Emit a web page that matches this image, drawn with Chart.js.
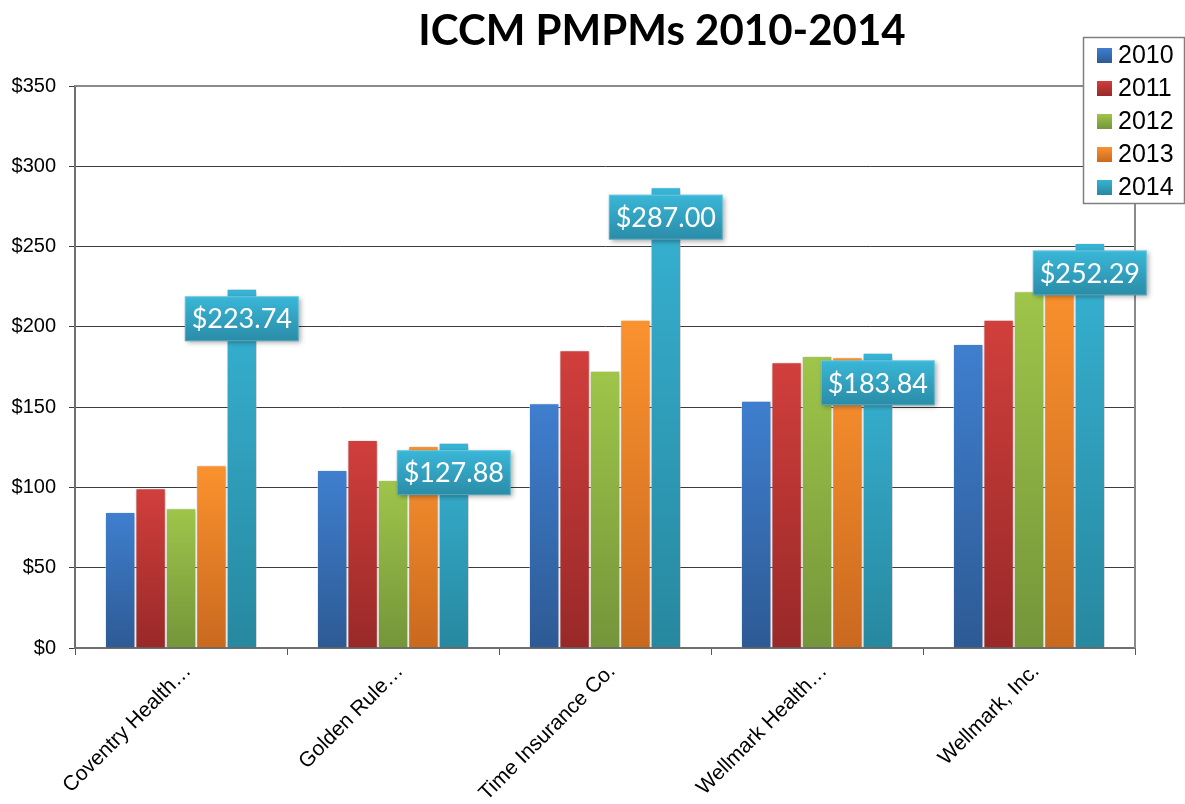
<!DOCTYPE html>
<html>
<head>
<meta charset="utf-8">
<script src="https://cdn.jsdelivr.net/npm/chart.js@4.4.1/dist/chart.umd.min.js"></script>
<style>
  html, body { margin: 0; padding: 0; background: #ffffff; }
  #wrap { position: relative; width: 1185px; height: 804px; }
</style>
</head>
<body>
<div id="wrap"><canvas id="c" width="1185" height="804"></canvas></div>
<script>
// ---- data ----
const chartTitle = "ICCM PMPMs 2010-2014";
const categories = ["Coventry Health…", "Golden Rule…", "Time Insurance Co.", "Wellmark Health…", "Wellmark, Inc."];
const years = ["2010", "2011", "2012", "2013", "2014"];
const values2010 = [84.7, 110.8, 152.4, 154.0, 189.3];
const values2011 = [99.5, 129.5, 185.4, 177.9, 204.4];
const values2012 = [87.0, 104.6, 172.7, 181.8, 222.1];
const values2013 = [113.8, 125.8, 204.4, 181.0, 236.0];
const values2014 = [223.74, 127.88, 287.00, 183.84, 252.29];
const yTicks = [0, 50, 100, 150, 200, 250, 300, 350];

// ---- styles ----
const seriesColors = [
  ["#3f7fcf", "#2d5a94"],
  ["#d13f3c", "#982928"],
  ["#9fc54a", "#74953a"],
  ["#fb922e", "#c9691f"],
  ["#37b3d4", "#27889f"]
];
const allValues = [values2010, values2011, values2012, values2013, values2014];

function barGradient(idx) {
  return function(ctx) {
    const chart = ctx.chart;
    const ys = chart.scales && chart.scales.y;
    if (!chart.chartArea || !ys || ctx.raw == null) return seriesColors[idx][0];
    const top = ys.getPixelForValue(ctx.raw);
    const bottom = ys.getPixelForValue(0);
    const g = chart.ctx.createLinearGradient(0, top, 0, bottom);
    g.addColorStop(0, seriesColors[idx][0]);
    g.addColorStop(1, seriesColors[idx][1]);
    return g;
  };
}

const datasets = years.map((y, i) => ({
  label: y,
  data: allValues[i],
  backgroundColor: barGradient(i),
  borderColor: "rgba(255,255,255,0.35)",
  borderWidth: { top: 1, left: 1, right: 1, bottom: 0 },
  categoryPercentage: 0.717,
  barPercentage: 1.0
}));

// title plugin
const titlePlugin = {
  id: "titlePlugin",
  afterDraw(chart) {
    const c = chart.ctx;
    c.save();
    c.font = "bold 42px Lato, 'Open Sans', sans-serif";
    c.fillStyle = "#000";
    c.textAlign = "center";
    c.textBaseline = "middle";
    c.fillText(chartTitle, 662, 31);
    c.restore();
  }
};

// plot border
const borderPlugin = {
  id: "borderPlugin",
  beforeDatasetsDraw(chart) {
    const a = chart.chartArea, c = chart.ctx;
    c.save();
    c.strokeStyle = "#8a8a8a";
    c.lineWidth = 2;
    c.beginPath();
    c.moveTo(a.left, a.top); c.lineTo(a.right, a.top); c.lineTo(a.right, a.bottom);
    c.stroke();
    c.restore();
  }
};

// bar shadow
const shadowPlugin = {
  id: "shadowPlugin",
  beforeDatasetsDraw(chart) {
    const c = chart.ctx;
    c.save();
    c.shadowColor = "rgba(0,0,0,0.25)";
    c.shadowBlur = 4;
    c.shadowOffsetX = 1;
    c.shadowOffsetY = 1;
  },
  afterDatasetsDraw(chart) {
    chart.ctx.restore();
  }
};

// data labels for 2014 series
const labelPlugin = {
  id: "labelPlugin",
  afterDatasetsDraw(chart) {
    const c = chart.ctx;
    const meta = chart.getDatasetMeta(4);
    const ds = chart.data.datasets[4];
    meta.data.forEach((bar, i) => {
      const v = ds.data[i];
      const text = "$" + v.toFixed(2);
      const w = 114, h = 45;
      const cx = bar.x, cy = bar.y + 30;
      const x = cx - w / 2, y = cy - h / 2;
      c.save();
      c.shadowColor = "rgba(0,0,0,0.35)";
      c.shadowBlur = 5;
      c.shadowOffsetX = 2;
      c.shadowOffsetY = 2;
      const g = c.createLinearGradient(0, y, 0, y + h);
      g.addColorStop(0, "#3ab7d8");
      g.addColorStop(1, "#2a8ca7");
      c.fillStyle = g;
      c.fillRect(x, y, w, h);
      c.shadowColor = "transparent";
      c.strokeStyle = "rgba(255,255,255,0.25)";
      c.lineWidth = 1;
      c.strokeRect(x + 0.5, y + 0.5, w - 1, h - 1);
      c.fillStyle = "#ffffff";
      c.font = "27px Lato, 'Open Sans', sans-serif";
      c.textAlign = "center";
      c.textBaseline = "middle";
      c.fillText(text, cx, cy + 1);
      c.restore();
    });
  }
};

// legend plugin
const legendPlugin = {
  id: "legendPlugin",
  afterDraw(chart) {
    const c = chart.ctx;
    const x0 = 1083, y0 = 37, w = 101, h = 166;
    c.save();
    c.fillStyle = "#ffffff";
    c.fillRect(x0, y0, w, h);
    c.strokeStyle = "#7f7f7f";
    c.lineWidth = 1.5;
    c.strokeRect(x0 + 0.5, y0 + 0.5, w, h);
    c.font = "25px 'Liberation Sans', Arial, sans-serif";
    c.textBaseline = "middle";
    c.textAlign = "left";
    chart.data.datasets.forEach((ds, i) => {
      const cy = 55 + i * 33;
      const g = c.createLinearGradient(0, cy - 7, 0, cy + 8);
      g.addColorStop(0, seriesColors[i][0]);
      g.addColorStop(1, seriesColors[i][1]);
      c.fillStyle = g;
      c.fillRect(1097, cy - 7, 15, 15);
      c.fillStyle = "#000";
      c.fillText(ds.label, 1118, cy + 1);
    });
    c.restore();
  }
};

new Chart(document.getElementById("c"), {
  type: "bar",
  data: { labels: categories, datasets: datasets },
  options: {
    responsive: false,
    animation: false,
    devicePixelRatio: 1,
    layout: { padding: { top: 86, right: 50, left: 0, bottom: 0 } },
    plugins: {
      legend: { display: false },
      title: { display: false },
      tooltip: { enabled: false }
    },
    scales: {
      x: {
        grid: { display: true, drawOnChartArea: false, drawTicks: true, tickLength: 7, color: "#555", offset: true },
        border: { display: true, color: "#6f6f6f", width: 2 },
        ticks: {
          color: "#000",
          font: { family: "'Liberation Sans', Arial, sans-serif", size: 21 },
          minRotation: 45, maxRotation: 45,
          autoSkip: false,
          padding: 4,
          labelOffset: 7
        },
        afterFit(scale) { scale.height = 156; }
      },
      y: {
        min: 0, max: 350,
        afterBuildTicks(scale) { scale.ticks = yTicks.map(v => ({ value: v })); },
        grid: { color: "#3c3c3c", lineWidth: 1, tickLength: 6, drawTicks: true },
        border: { display: true, color: "#6f6f6f", width: 2 },
        ticks: {
          color: "#000",
          padding: 13,
          font: { family: "'Liberation Sans', Arial, sans-serif", size: 20 },
          callback: (v) => "$" + v
        },
        afterFit(scale) { scale.width = 75; }
      }
    }
  },
  plugins: [borderPlugin, shadowPlugin, labelPlugin, titlePlugin, legendPlugin]
});
</script>
</body>
</html>
